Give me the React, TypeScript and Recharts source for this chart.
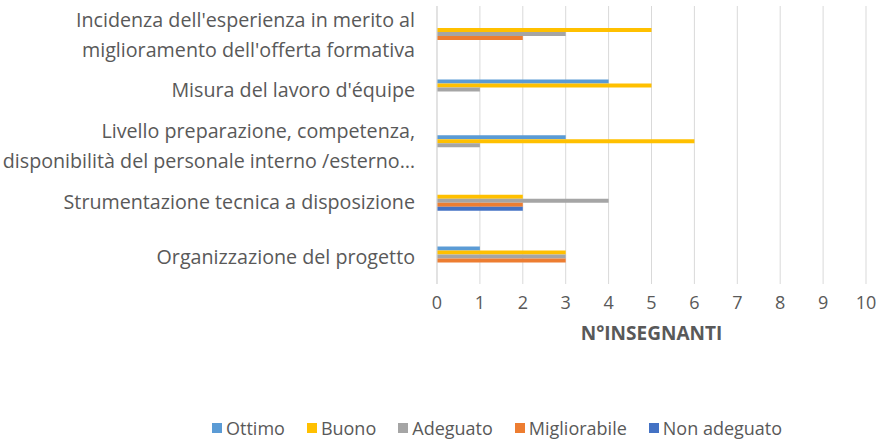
import { BarChart, Bar, CartesianGrid, XAxis, YAxis, Legend } from "recharts";

const categories = [
  "Incidenza dell'esperienza in merito al\nmiglioramento dell'offerta formativa",
  "Misura del lavoro d'équipe",
  "Livello preparazione, competenza,\ndisponibilità del personale interno /esterno…",
  "Strumentazione tecnica a disposizione",
  "Organizzazione del progetto",
];

const ottimo = [0, 4, 3, 0, 1];
const buono = [5, 5, 6, 2, 3];
const adeguato = [3, 1, 1, 4, 3];
const migliorabile = [2, 0, 0, 2, 3];
const nonAdeguato = [0, 0, 0, 2, 0];

const xTicks = [0, 1, 2, 3, 4, 5, 6, 7, 8, 9, 10];

const series = [
  { key: "ottimo", name: "Ottimo", color: "#5B9BD5" },
  { key: "buono", name: "Buono", color: "#FFC000" },
  { key: "adeguato", name: "Adeguato", color: "#A5A5A5" },
  { key: "migliorabile", name: "Migliorabile", color: "#ED7D31" },
  { key: "nonAdeguato", name: "Non adeguato", color: "#4472C4" },
];

const data = categories.map((cat, i) => ({
  cat,
  ottimo: ottimo[i],
  buono: buono[i],
  adeguato: adeguato[i],
  migliorabile: migliorabile[i],
  nonAdeguato: nonAdeguato[i],
}));

const FONT = "'Open Sans', sans-serif";
const TEXT = "#595959";

function CategoryTick(props: any) {
  const { x, y, payload } = props;
  const lines = String(payload.value).split("\n");
  const lh = 30;
  const start = y - ((lines.length - 1) * lh) / 2;
  return (
    <text
      x={x}
      y={start}
      textAnchor="end"
      dominantBaseline="central"
      fill={TEXT}
      fontSize={19.7}
      fontFamily={FONT}
    >
      {lines.map((l, i) => (
        <tspan key={i} x={x} y={start + i * lh}>
          {l}
        </tspan>
      ))}
    </text>
  );
}

function LegendContent() {
  return (
    <div
      style={{
        display: "flex",
        gap: 22,
        fontFamily: FONT,
        fontSize: 18,
        color: TEXT,
        alignItems: "center",
        paddingLeft: 212,
      }}
    >
      {series.map((s) => (
        <div key={s.key} style={{ display: "flex", alignItems: "center" }}>
          <span
            style={{
              display: "inline-block",
              width: 10,
              height: 10,
              background: s.color,
              marginRight: 4,
            }}
          />
          {s.name}
        </div>
      ))}
    </div>
  );
}

export default function App() {
  return (
    <div style={{ position: "absolute", left: 0, top: 0 }}>
      <BarChart
        width={885}
        height={440}
        data={data}
        layout="vertical"
        margin={{ top: 6, right: 19, left: 0, bottom: 6 }}
        barGap={0}
        barSize={4}
      >
        <CartesianGrid horizontal={false} stroke="#d9d9d9" />
        <XAxis
          type="number"
          domain={[0, 10]}
          ticks={xTicks}
          axisLine={false}
          tickLine={false}
          tickMargin={6}
          height={126}
          tick={{ fill: TEXT, fontSize: 18, fontFamily: FONT }}
          label={{
            value: "N°INSEGNANTI",
            position: "insideTop",
            offset: 43,
            fill: TEXT,
            fontSize: 19,
            fontWeight: "bold",
            fontFamily: FONT,
          }}
        />
        <YAxis
          type="category"
          dataKey="cat"
          width={437}
          axisLine={{ stroke: "#d9d9d9" }}
          tickLine={false}
          tickSize={0}
          tickMargin={22}
          tick={<CategoryTick />}
        />
        <Legend
          verticalAlign="bottom"
          content={<LegendContent />}
          wrapperStyle={{ left: 0, width: 885, height: 24, bottom: 0 }}
        />
        {series.map((s) => (
          <Bar
            key={s.key}
            dataKey={s.key}
            name={s.name}
            fill={s.color}
            isAnimationActive={false}
          />
        ))}
      </BarChart>
    </div>
  );
}
